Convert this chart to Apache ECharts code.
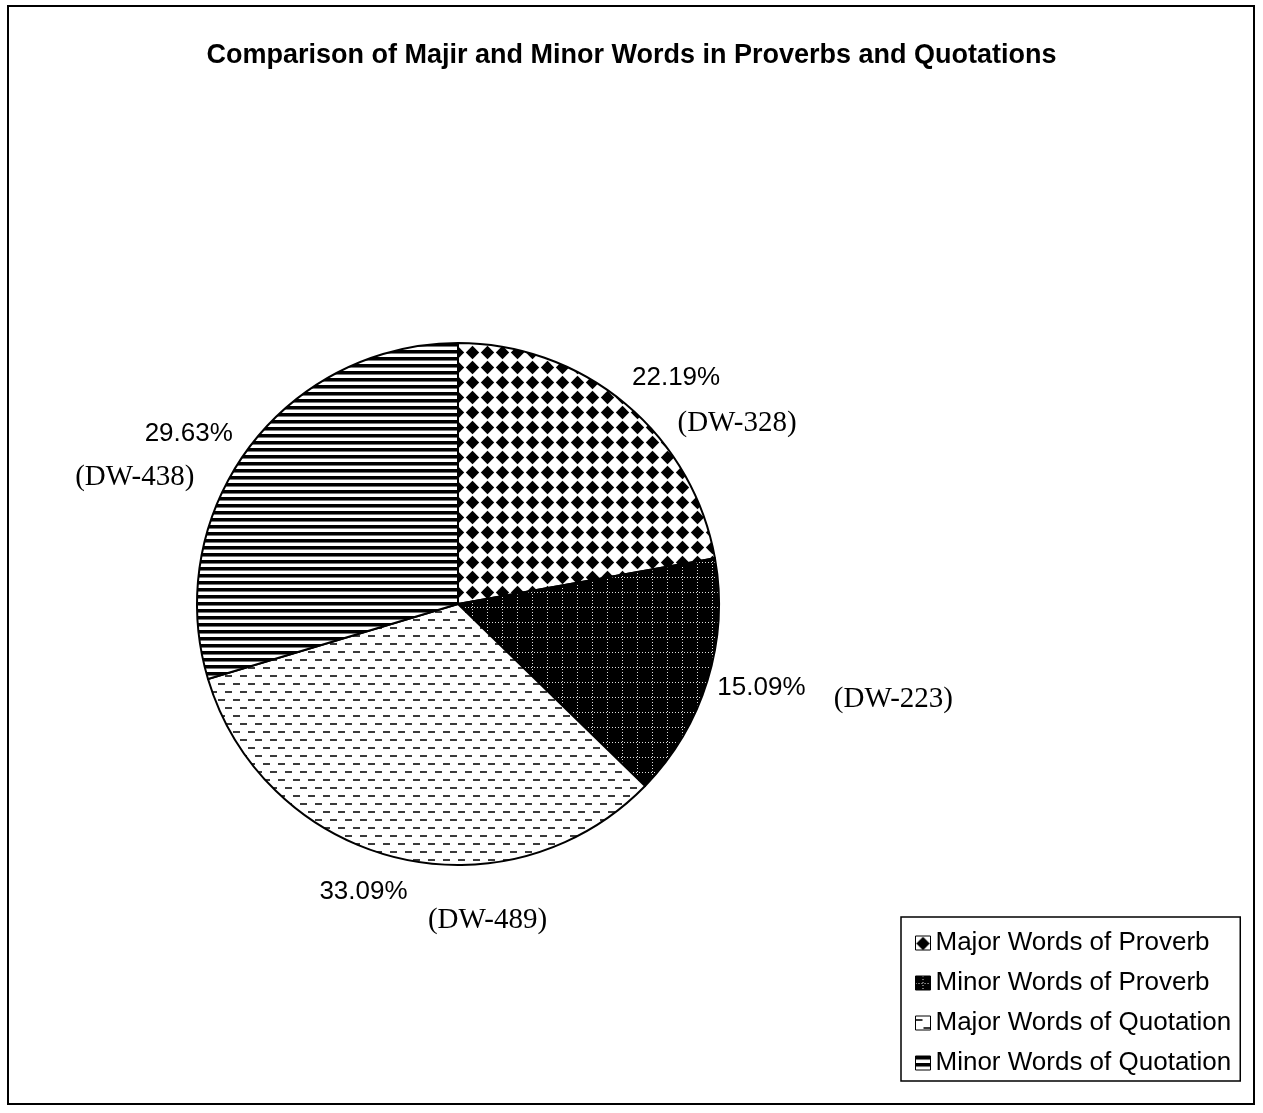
<!DOCTYPE html>
<html>
<head>
<meta charset="utf-8">
<script src="https://cdn.jsdelivr.net/npm/echarts@6/dist/echarts.min.js"></script>
<style>html,body{margin:0;padding:0;background:#fff}#c{width:1263px;height:1113px}</style>
</head>
<body>
<div id="c"></div>
<script>
// ---- data ----
const titleText = 'Comparison of Majir and Minor Words in Proverbs and Quotations';
const categories = ['Major Words of Proverb', 'Minor Words of Proverb', 'Major Words of Quotation', 'Minor Words of Quotation'];
const wordCounts = [328, 223, 489, 438];

// ---- layout constants ----
const CX = 458, CY = 604, R = 261;
const pctTweak = [[17, 14], [4, -8], [-20, -16], [-18, 17]];
const dwOffset = [[61, 46], [132, 12], [124, 28], [-54, 43]];

// ---- patterns ----
function tile(w, h, draw) {
  const c = document.createElement('canvas');
  c.width = w; c.height = h;
  const g = c.getContext('2d');
  draw(g, w, h);
  return { image: c, repeat: 'repeat' };
}
const patDiamond = tile(15, 15, (g, w, h) => {
  g.fillStyle = '#fff'; g.fillRect(0, 0, w, h);
  g.fillStyle = '#000';
  g.beginPath();
  g.moveTo(7.5, 0.8); g.lineTo(14.2, 7.5); g.lineTo(7.5, 14.2); g.lineTo(0.8, 7.5); g.closePath();
  g.fill();
});
const patGrid = tile(15, 15, (g, w, h) => {
  g.fillStyle = '#000'; g.fillRect(0, 0, w, h);
  g.fillStyle = '#e0e0e0';
  for (let i = 0; i < 15; i += 3) { g.fillRect(7, i, 1, 1); g.fillRect(i, 7, 1, 1); }
});
const patDash = tile(15, 16, (g, w, h) => {
  g.fillStyle = '#fff'; g.fillRect(0, 0, w, h);
  g.fillStyle = '#3a3a3a';
  g.fillRect(0, 3, 7, 2);
  g.fillRect(8, 11, 7, 2);
});
const patStripe = tile(4, 7, (g, w, h) => {
  g.fillStyle = '#fff'; g.fillRect(0, 0, w, h);
  g.fillStyle = '#000'; g.fillRect(0, 0, w, 3);
  g.fillStyle = '#777'; g.fillRect(0, 3, w, 1);
});
const patterns = [patDiamond, patGrid, patDash, patStripe];

// ---- helpers ----
const total = wordCounts.reduce((a, b) => a + b, 0);
function midAngle(i) {
  let s = 0;
  for (let k = 0; k < i; k++) s += wordCounts[k];
  return ((s + wordCounts[i] / 2) / total) * Math.PI * 2;
}
function pctPos(i) {
  const a = midAngle(i);
  return [CX + 1.2 * R * Math.sin(a) + pctTweak[i][0], CY - 1.2 * R * Math.cos(a) + pctTweak[i][1]];
}

const chart = echarts.init(document.getElementById('c'), null, { renderer: 'canvas' });
const seriesData = categories.map((name, i) => ({
  name, value: wordCounts[i], itemStyle: { color: patterns[i] }
}));
chart.setOption({
  animation: false,
  backgroundColor: '#fff',
  title: {
    text: titleText, left: 'center', top: 37,
    textStyle: { fontFamily: 'Liberation Sans, Arial', fontWeight: 'bold', fontSize: 27, color: '#000' }
  },
  legend: {
    orient: 'vertical', left: 901, top: 917,
    data: categories,
    itemWidth: 15, itemHeight: 14, itemGap: 14,
    padding: [13, 9, 5, 14],
    borderColor: '#000', borderWidth: 1.5,
    icon: 'rect',
    itemStyle: { borderColor: '#000', borderWidth: 1 },
    textStyle: { fontFamily: 'Liberation Sans, Arial', fontSize: 26, color: '#000' },
    selectedMode: false
  },
  graphic: [{
    type: 'rect', shape: { x: 8, y: 6, width: 1246, height: 1098 },
    style: { fill: 'none', stroke: '#000', lineWidth: 2 }, silent: true, z: -1
  }],
  series: [
    {
      type: 'pie', center: [CX, CY], radius: R, startAngle: 90, clockwise: true,
      data: seriesData,
      itemStyle: { borderColor: '#000', borderWidth: 2 },
      emphasis: { disabled: true },
      label: {
        show: true, position: 'outside', formatter: '{d}%',
        fontFamily: 'Liberation Sans, Arial', fontSize: 26, color: '#000'
      },
      labelLine: { show: false },
      labelLayout: function (p) {
        const pos = pctPos(p.dataIndex);
        return { x: pos[0], y: pos[1], align: 'center', verticalAlign: 'middle' };
      }
    },
    {
      type: 'pie', center: [CX, CY], radius: R, startAngle: 90, clockwise: true, silent: true,
      data: categories.map((name, i) => ({ name: name + ' ', value: wordCounts[i] })),
      itemStyle: { color: 'rgba(0,0,0,0)', borderWidth: 0 },
      emphasis: { disabled: true },
      legendHoverLink: false,
      label: {
        show: true, position: 'outside', formatter: '(DW-{c})',
        fontFamily: 'Liberation Serif, Times New Roman', fontSize: 29, color: '#000'
      },
      labelLine: { show: false },
      labelLayout: function (p) {
        const pos = pctPos(p.dataIndex);
        const o = dwOffset[p.dataIndex];
        return { x: pos[0] + o[0], y: pos[1] + o[1], align: 'center', verticalAlign: 'middle' };
      }
    }
  ]
});
</script>
</body>
</html>
